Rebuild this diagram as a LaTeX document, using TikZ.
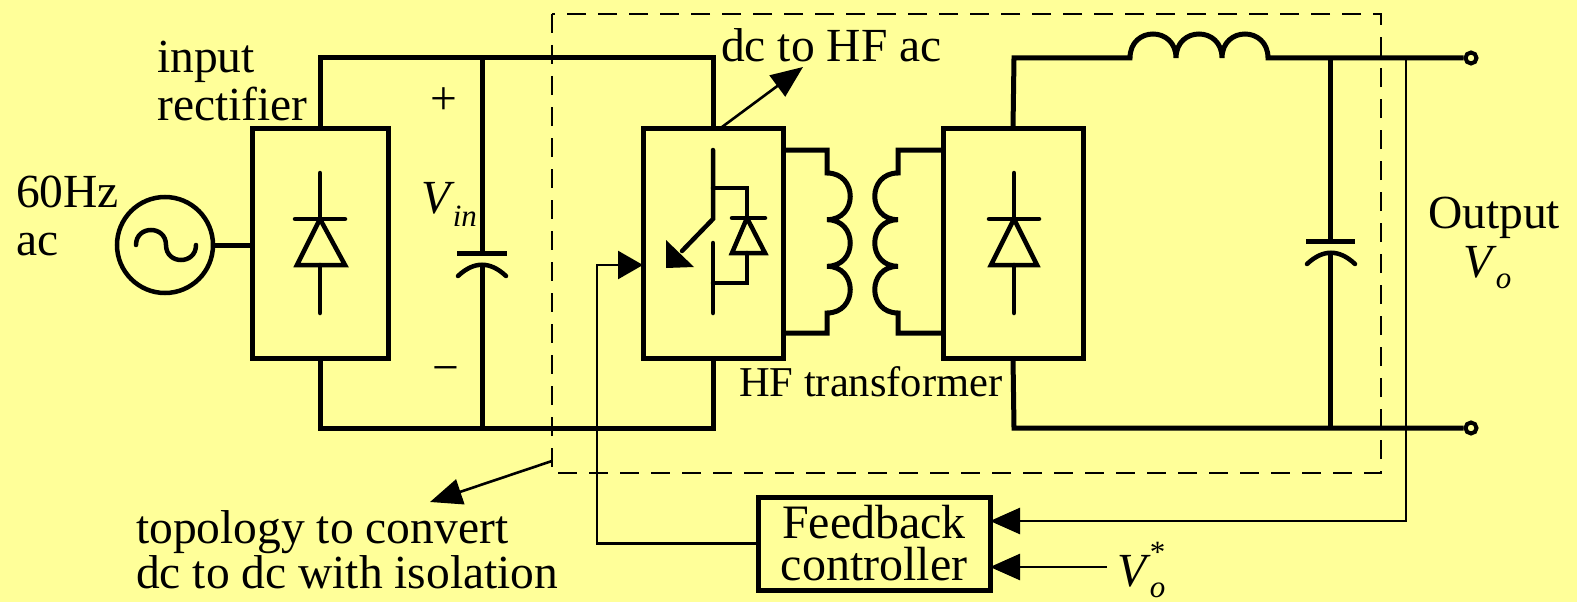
\documentclass[tikz,border=0pt]{standalone}
\usepackage{fontspec}
\setmainfont{Liberation Serif}
\usetikzlibrary{arrows.meta}
\definecolor{bg}{RGB}{255,255,153}
\newcommand{\subit}[1]{{\fontsize{31}{32}\selectfont\itshape #1}}
\begin{document}
\begin{tikzpicture}[x=1pt,y=-1pt,
 wire/.style={line width=5pt, line join=miter},
 sym/.style={line width=4.5pt, line cap=round, line join=miter},
 thinline/.style={line width=2.6pt},
 box/.style={draw, line width=5pt, inner sep=0pt, outer sep=0pt},
 lbl/.style={inner sep=0pt, anchor=base west, font=\fontsize{47.5}{50}\selectfont},
 bigtip/.style={-{Triangle[length=30pt,width=26pt]}},
 term/.style={circle, draw, line width=4pt, fill=bg, minimum size=11pt, inner sep=0pt},
]
\fill[bg] (0,0) rectangle (1577,602);
\useasboundingbox (0,0) rectangle (1577,602);

% dashed isolation boundary
\draw[line width=2.8pt, dash pattern=on 19pt off 12pt] (552,14) rectangle (1381,473);

% boxes
\node[box, minimum width=136pt, minimum height=230pt] (rect) at (320,243) {};
\node[box, minimum width=140pt, minimum height=230pt] (sw) at (713,243) {};
\node[box, minimum width=140pt, minimum height=230pt] (sec) at (1013,243) {};
\node[box, minimum width=232pt, minimum height=93pt, align=center,
      font=\fontsize{48}{42}\selectfont] (fb) at (874,543.5) {Feedback\\controller};

% ac source
\node[circle, draw, line width=4.5pt, minimum size=96pt, inner sep=0pt] (src) at (165,245) {};
\draw[sym] (136,245) .. controls (136,225) and (166,225) .. (166,245)
           .. controls (166,265) and (196,265) .. (196,245);
\draw[wire] (src.east) -- (rect.west |- src.east);

% rectifier diode
\draw[sym] (320,173) -- (320,219) (295,219) -- (345,219) (320,265) -- (320,313);
\draw[sym, line cap=butt] (320,219) -- (297,265) -- (345,265) -- cycle;

% dc link
\coordinate (cpT) at (482,58);
\coordinate (cpB) at (482,428);
\draw[wire] (rect.north) -- (320,58) -- (713,58) -- (sw.north);
\draw[wire] (rect.south) -- (320,428) -- (713,428) -- (sw.south);
\draw[wire] (cpT) -- (482,253);
\draw[wire] (457,253) -- (507,253);
\draw[sym] (458,276) .. controls (474,261) and (490,261) .. (506,276);
\draw[wire] (482,266) -- (cpB);

% IGBT + antiparallel diode
\draw[sym] (713,150) -- (713,219) -- (682,251);
\fill (666,240) -- (666,268) -- (694,267) -- cycle;
\draw[sym] (713,243) -- (713,313);
\draw[sym] (713,188) -- (747,188) -- (747,218) (732,218) -- (765,218);
\draw[sym, line cap=butt] (747,218) -- (732,253) -- (765,253) -- cycle;
\draw[sym] (747,253) -- (747,283) -- (713,283);

% transformer
\draw[wire] (783,150) -- (827,150) -- (827,173)
  .. controls (858,173) and (858,219.7) .. (827,219.7)
  .. controls (858,219.7) and (858,266.3) .. (827,266.3)
  .. controls (858,266.3) and (858,313) .. (827,313)
  -- (827,333) -- (783,333);
\draw[wire] (943,150) -- (898,150) -- (898,173)
  .. controls (867,173) and (867,219.7) .. (898,219.7)
  .. controls (867,219.7) and (867,266.3) .. (898,266.3)
  .. controls (867,266.3) and (867,313) .. (898,313)
  -- (898,333) -- (943,333);

% output rectifier diode
\draw[sym] (1014,173) -- (1014,219) (989,219) -- (1039,219) (1014,265) -- (1014,313);
\draw[sym, line cap=butt] (1014,219) -- (991,265) -- (1037,265) -- cycle;

% output side
\node[term] (t1) at (1471,58) {};
\node[term] (t2) at (1471,428) {};
\draw[wire] (sec.north) -- (1014,58) -- (1130,58)
  .. controls (1130,26) and (1176,26) .. (1176,58)
  .. controls (1176,26) and (1222,26) .. (1222,58)
  .. controls (1222,26) and (1268,26) .. (1268,58)
  -- (t1.west);
\draw[wire] (sec.south) -- (1014,428) -- (t2.west);
\draw[wire] (1330,58) -- (1330,241);
\draw[wire] (1306,241) -- (1355,241);
\draw[sym] (1307,264) .. controls (1323,249) and (1339,249) .. (1355,264);
\draw[wire] (1330,254) -- (1330,428);

% feedback paths
\draw[thinline, bigtip] (1406,58) -- (1406,521) -- (fb.east |- 0,521);
\coordinate (vref) at (1107,567);
\draw[thinline, bigtip] (vref) -- (fb.east |- vref);
\draw[thinline, -{Triangle[length=25pt,width=28pt]}] (fb.west) -- (597,543.5) -- (597,265) -- (sw.west |- 0,265);

% annotation arrows
\draw[thinline, -{Triangle[length=32pt,width=26pt]}] (722,127) -- (803,67);
\draw[thinline, -{Triangle[length=32pt,width=26pt]}] (552,461) -- (430,502);

% labels
\node[lbl] at (157,73) {input};
\node[lbl] at (157,120) {rectifier};
\node[lbl] at (16,207) {60Hz};
\node[lbl] at (16,255) {ac};
\node[lbl, anchor=center] at (444,101) {+};
\node[lbl, anchor=center] at (446,375) {\textminus};
\node[lbl] at (421,213) {\textit{V}\kern-2pt\raisebox{-13pt}{\subit{in}}};
\node[lbl] at (721,62) {dc to HF ac};
\node[lbl, font=\fontsize{42.5}{46}\selectfont] at (739,396) {HF transformer};
\node[lbl] at (1428,228) {Output};
\node[lbl] at (1463,277) {\textit{V}\kern-1pt\raisebox{-11pt}{\subit{o}}};
\node[lbl] at (136,543) {topology to convert};
\node[lbl] at (136,588) {dc to dc with isolation};
\node[lbl] at (1117,586) {\textit{V}\kern-1pt\rlap{\raisebox{24pt}{\fontsize{31}{32}\selectfont *}}\raisebox{-11pt}{\subit{o}}};
\end{tikzpicture}
\end{document}
